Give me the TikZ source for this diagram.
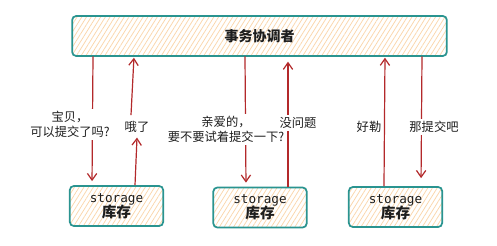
\documentclass[tikz,border=0pt]{standalone}
\usepackage{fontspec}
\setmonofont{DejaVu Sans Mono}
\newfontfamily\cjk{Noto Sans CJK SC}
\usepackage{xcolor}
\usetikzlibrary{arrows.meta,patterns.meta}
\definecolor{boxTeal}{HTML}{2A9490}
\definecolor{hatchOrange}{HTML}{FBD6AA}
\definecolor{arrowRed}{HTML}{B3292B}
\definecolor{inkDark}{HTML}{1E1E1E}

\begin{document}
\begin{tikzpicture}[x=0.75pt,y=-0.75pt,
    store/.style={draw=boxTeal,line width=1.3pt,rounded corners=3pt,
      pattern={Lines[angle=58,distance=3pt,line width=0.55pt]},pattern color=hatchOrange,
      text=inkDark,align=center,inner sep=0pt},
    flow/.style={draw=arrowRed,line width=0.9pt,-{Straight Barb[length=5pt,width=7pt]}},
    msg/.style={fill=white,text=inkDark,align=center,inner sep=1.5pt,
      font=\cjk\fontsize{9.2}{11.6}\selectfont}]
    \fill[white] (0,0) rectangle (497,246);
    \useasboundingbox (0,0) rectangle (497,246);
    % coordinator and the three stores
    \node[store,minimum width=281pt,minimum height=30pt] (tc) at (259.5,36)
      {\cjk\bfseries\fontsize{10.5}{12}\selectfont 事务协调者};
    \node[store,minimum width=70pt,minimum height=30pt] (sA) at (116.5,206)
      {\ttfamily\fontsize{9.5}{11}\selectfont storage\\[-1pt]\cjk\bfseries\fontsize{11}{12}\selectfont 库存};
    \node[store,minimum width=70pt,minimum height=30pt] (sB) at (260,207.5)
      {\ttfamily\fontsize{9.5}{11}\selectfont storage\\[-1pt]\cjk\bfseries\fontsize{11}{12}\selectfont 库存};
    \node[store,minimum width=70pt,minimum height=30pt] (sC) at (395.5,207)
      {\ttfamily\fontsize{9.5}{11}\selectfont storage\\[-1pt]\cjk\bfseries\fontsize{11}{12}\selectfont 库存};
    % messages
    \draw[flow,shorten >=3pt] (tc.south -| 93,0) -- (sA.north -| 92,0);
    \draw[flow,shorten >=3pt] (tc.south -| 245,0) -- (sB.north -| 246,0);
    \draw[flow,shorten >=4pt] (sB.north -| 288,0) -- (tc.south -| 288,0);
    \draw[flow,shorten >=6pt] (tc.south -| 422,0) -- (sC.north -| 421,0);
    \node[msg] (lA) at (70,124.5) {宝贝，\\可以提交了吗?};
    \node[msg] (lB) at (137,127) {哦了};
    \node[msg] (lC) at (226,129.5) {亲爱的，\\要不要试着提交一下?};
    \node[msg] (lD) at (298,123) {没问题};
    \node[msg,fill=none] (lE) at (369,127) {好勒};
    \node[msg] (lF) at (434,127) {那提交吧};
    \draw[flow] (sA.north -| 135,0) -- ([yshift=-2pt]lB.south);
    \draw[flow,shorten >=1pt] ([yshift=3pt]lB.north -| 131,0) -- (tc.south -| 134,0);
    \draw[flow,shorten >=1pt] (sC.north -| 384,0) -- (tc.south -| 385,0);
\end{tikzpicture}
\end{document}
